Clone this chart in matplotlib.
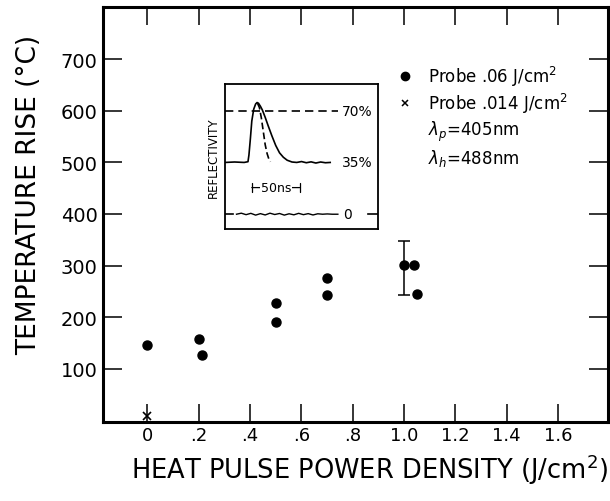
import numpy as np
import matplotlib
matplotlib.use('Agg')
import matplotlib.pyplot as plt

# main data: heat pulse power density (J/cm^2) vs temperature rise (C)
x_probe06 = [0.0, 0.2, 0.215, 0.5, 0.503, 0.7, 0.7, 1.0, 1.04, 1.05]
y_probe06 = [147, 158, 126, 228, 190, 276, 243, 301, 301, 245]
x_probe014 = [0.0]
y_probe014 = [8]
err_x = [1.0]
err_mid = [295]
err_half = [52]

xticks = [0, 0.2, 0.4, 0.6, 0.8, 1.0, 1.2, 1.4, 1.6]
xticklabels = ['0', '.2', '.4', '.6', '.8', '1.0', '1.2', '1.4', '1.6']
yticks = [100, 200, 300, 400, 500, 600, 700]

# inset: reflectivity trace (time in ns, reflectivity in %)
refl_t = [0, 10, 20, 24, 25, 26.5, 28, 30, 32, 33.5, 35, 37, 39, 42, 45, 49, 53,
          57, 61, 65, 70, 75, 80, 85, 90, 95, 100, 105, 110]
refl_r = [35, 35.3, 35, 35.5, 40, 51, 63, 71, 74.5, 75.5, 75, 73, 70.5, 65.5, 60,
          53, 46.5, 41.5, 38.5, 36.5, 35.3, 35, 35.6, 34.8, 35.4, 34.6, 35.3, 34.8, 35]
dash_t = [34, 36, 38, 40, 42, 44, 46, 47.5]
dash_r = [75, 72, 65, 56, 47, 41, 37, 35.5]
zero_t = [12, 17, 22, 27, 32, 37, 42, 47, 52, 57, 62, 67, 72, 77, 82, 87, 92,
          97, 102, 107, 112, 118]
zero_r = [0, 0.7, -0.3, 0.6, -0.6, 0.4, -0.5, 0.7, -0.2, 0.5, -0.6, 0.3, -0.4,
          0.6, -0.3, 0.4, -0.5, 0.3, 0, 0.2, 0, 0]

plt.rcParams['font.family'] = ['DejaVu Sans']

fig = plt.figure(figsize=(6.1, 5.02), dpi=100)
ax = fig.add_axes([0.1689, 0.1574, 0.8278, 0.8276])

ax.plot(x_probe06, y_probe06, 'o', color='black', markersize=6.5)
ax.plot(x_probe014, y_probe014, 'x', color='black', markersize=6, mew=1.2)
ax.errorbar(err_x, err_mid, yerr=err_half, fmt='none', ecolor='black',
            elinewidth=1.1, capsize=4, capthick=1.1)

ax.set_xlim(-0.172, 1.795)
ax.set_ylim(-3, 802)
ax.set_xticks(xticks)
ax.set_xticklabels(xticklabels)
ax.set_yticks(yticks)

for s in ax.spines.values():
    s.set_linewidth(2.2)

ax.tick_params(axis='x', direction='in', length=13, width=1.1, top=True,
               labelsize=13, pad=3)
ax.tick_params(axis='y', direction='in', length=14, width=1.1, right=True,
               labelsize=14, pad=4)

ax.set_xlabel('HEAT PULSE POWER DENSITY (J/cm$^2$)', fontsize=18.5)
ax.set_ylabel('TEMPERATURE RISE (\u00b0C)', fontsize=19)
ax.xaxis.set_label_coords(0.527, -0.072)
ax.yaxis.set_label_coords(-0.12, 0.548)

# legend-like annotations
ax.plot([0.598], [0.832], 'o', color='black', markersize=6, transform=ax.transAxes)
ax.plot([0.598], [0.767], 'x', color='black', markersize=5, mew=1.1, transform=ax.transAxes)
ax.text(0.644, 0.832, 'Probe .06 J/cm$^2$', transform=ax.transAxes, fontsize=12, va='center')
ax.text(0.644, 0.767, 'Probe .014 J/cm$^2$', transform=ax.transAxes, fontsize=12, va='center')
ax.text(0.644, 0.700, '$\\lambda_p$=405nm', transform=ax.transAxes, fontsize=12, va='center')
ax.text(0.644, 0.637, '$\\lambda_h$=488nm', transform=ax.transAxes, fontsize=12, va='center')

# inset
ins = fig.add_axes([0.3689, 0.5418, 0.2508, 0.2888])
ins.plot(refl_t, refl_r, color='black', lw=1.2)
ins.plot(dash_t, dash_r, color='black', lw=1.2, linestyle=(0, (4, 2)))
ins.plot([0, 118], [70, 70], color='black', lw=1.2, linestyle=(0, (5, 3)))
ins.plot([0, 8], [0, 0], color='black', lw=1.2)
ins.plot([150, 160], [0, 0], color='black', lw=1.2)
ins.plot(zero_t, zero_r, color='black', lw=1.0)
ins.text(122, 70, '70%', fontsize=10, va='center')
ins.text(122, 35, '35%', fontsize=10, va='center')
ins.text(123, 0, '0', fontsize=10, va='center')
ins.annotate('', xy=(28, 18), xytext=(78, 18),
             arrowprops=dict(arrowstyle='|-|', lw=0.9, mutation_scale=3,
                             shrinkA=0, shrinkB=0))
ins.text(53, 18, '50ns', fontsize=9, ha='center', va='center',
         bbox=dict(facecolor='white', edgecolor='none', pad=0.5))
ins.set_xlim(0, 160)
ins.set_ylim(-10, 88)
ins.set_xticks([])
ins.set_yticks([])
for s in ins.spines.values():
    s.set_linewidth(1.3)
ins.set_ylabel('REFLECTIVITY', fontsize=8.5, labelpad=4)

fig.savefig('out.png', dpi=100)
